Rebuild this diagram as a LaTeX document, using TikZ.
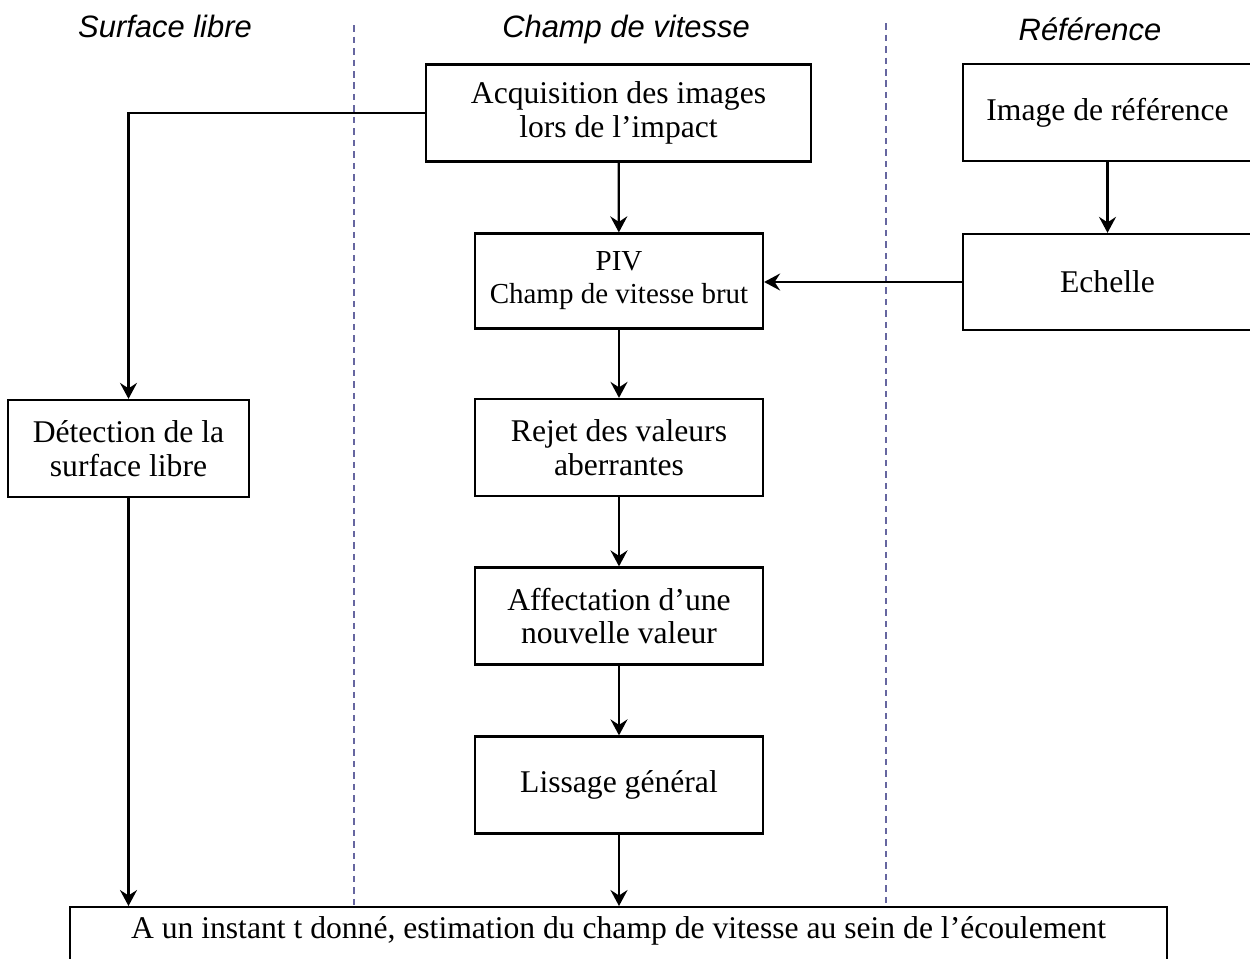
\documentclass[tikz,border=0pt]{standalone}
\usepackage{fontspec}
\setmainfont{Liberation Serif}
\setsansfont{Liberation Sans}
\usetikzlibrary{arrows.meta}
\definecolor{sepcol}{RGB}{102,102,160}
\tikzset{
  stepbox/.style={draw, line width=1.3pt, align=center, minimum width=5.78cm,
    minimum height=1.94cm, inner sep=2pt, font=\fontsize{18}{19}\selectfont},
  coltitle/.style={anchor=base, font=\sffamily\itshape\fontsize{17.6}{20}\selectfont},
  arr/.style={line width=1.3pt, -{Stealth[length=0.32cm,width=0.34cm,inset=0.11cm]}},
  sep/.style={sepcol, line width=0.8pt, dash pattern=on 0.13cm off 0.1cm}
}
\begin{document}
\begin{tikzpicture}[x=0.02cm, y=-0.02cm]
  \useasboundingbox (0,0) rectangle (1250,958);
  % column titles
  \node[coltitle] (tsurf) at (165,37) {Surface libre};
  \node[coltitle] (tchamp) at (626,37) {Champ de vitesse};
  \node[coltitle] (tref) at (1090,40) {Référence};
  % boxes
  \node[stepbox, minimum width=7.7cm] (acq) at (618.5,113) {Acquisition des images\\lors de l'impact};
  \node[stepbox] (imgref) at (1107.5,112.5) {Image de référence};
  \node[stepbox, minimum width=5.76cm, minimum height=1.9cm,
    font=\fontsize{16.5}{18.8}\selectfont] (piv) at (619,281) {PIV\\Champ de vitesse brut};
  \node[stepbox, minimum height=1.92cm] (echelle) at (1107.5,282) {Echelle};
  \node[stepbox, minimum width=4.82cm] (detect) at (128.5,448.5) {Détection de la\\surface libre};
  \node[stepbox, minimum width=5.76cm] (rejet) at (619,447.5) {Rejet des valeurs\\aberrantes};
  \node[stepbox, minimum width=5.76cm] (affect) at (619,616) {Affectation d'une\\nouvelle valeur};
  \node[stepbox, minimum width=5.76cm] (lissage) at (619,785) {Lissage général};
  \node[stepbox, anchor=north, minimum width=21.94cm, minimum height=0pt,
    inner ysep=0.12cm, text height=0.5cm, text depth=1.5cm] (result) at (618.5,906)
    {A un instant t donné, estimation du champ de vitesse au sein de l'écoulement};
  % separators
  \coordinate (s1) at (354,25);
  \coordinate (s2) at (886,23);
  \draw[sep] (s1) -- (s1 |- result.north);
  \draw[sep] (s2) -- (s2 |- result.north);
  % arrows
  \draw[arr] (acq.west) -| (detect.north);
  \draw[arr] (acq) -- (piv);
  \draw[arr] (imgref) -- (echelle);
  \draw[arr] (echelle.west) -- (echelle.west -| piv.east);
  \draw[arr] (piv) -- (rejet);
  \draw[arr] (rejet) -- (affect);
  \draw[arr] (affect) -- (lissage);
  \draw[arr] (lissage) -- (lissage |- result.north);
  \draw[arr] (detect) -- (detect |- result.north);
\end{tikzpicture}
\end{document}
